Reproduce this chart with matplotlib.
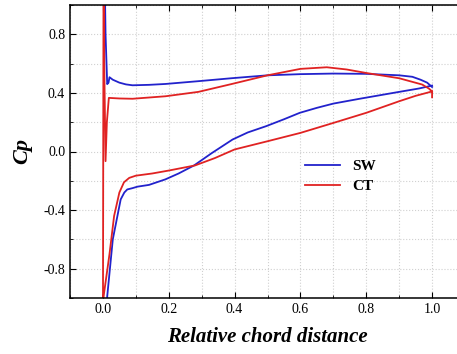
import matplotlib
matplotlib.use("Agg")
import matplotlib.pyplot as plt
from matplotlib.ticker import MultipleLocator

# SW (blue) - upper and lower surface
sw_up_x = [0.004, 0.008, 0.013, 0.017, 0.02, 0.03, 0.05, 0.07, 0.09, 0.14, 0.19, 0.29,
           0.39, 0.5, 0.6, 0.7, 0.8, 0.9, 0.94, 0.965, 0.985, 0.995, 1.0]
sw_up_y = [1.4, 0.8, 0.46, 0.47, 0.507, 0.49, 0.47, 0.458, 0.452, 0.455, 0.461, 0.48,
           0.50, 0.52, 0.528, 0.532, 0.53, 0.52, 0.51, 0.49, 0.47, 0.45, 0.44]
sw_lo_x = [0.01, 0.013, 0.03, 0.054, 0.065, 0.074, 0.09, 0.105, 0.14, 0.19, 0.23,
           0.277, 0.33, 0.394, 0.44, 0.496, 0.55, 0.598, 0.65, 0.7, 0.78, 0.9, 0.96, 1.0]
sw_lo_y = [-1.3, -0.99, -0.6, -0.327, -0.28, -0.259, -0.25, -0.24, -0.228, -0.19,
           -0.15, -0.095, -0.012, 0.082, 0.13, 0.173, 0.22, 0.264, 0.298, 0.327, 0.36,
           0.407, 0.43, 0.45]

# CT (red)
ct_up_x = [1.0, 1.0, 0.99, 0.97, 0.9, 0.8, 0.74, 0.68, 0.6, 0.5, 0.39, 0.29, 0.19,
           0.09, 0.05, 0.018, 0.012, 0.008, 0.004, 0.002]
ct_up_y = [0.37, 0.41, 0.43, 0.457, 0.5, 0.536, 0.56, 0.575, 0.564, 0.52, 0.46, 0.407,
           0.377, 0.36, 0.362, 0.366, 0.2, -0.066, 0.6, 1.4]
ct_lo_x = [0.0, 0.002, 0.02, 0.034, 0.05, 0.064, 0.08, 0.1, 0.15, 0.2, 0.28, 0.34,
           0.4, 0.5, 0.6, 0.7, 0.8, 0.9, 0.95, 1.0]
ct_lo_y = [-1.3, -0.99, -0.7, -0.44, -0.28, -0.21, -0.18, -0.165, -0.15, -0.13,
           -0.095, -0.045, 0.014, 0.07, 0.127, 0.195, 0.264, 0.343, 0.38, 0.41]

blue = "#2222cc"
red = "#e02222"

plt.rcParams['font.family'] = 'Liberation Serif'
plt.rcParams['axes.unicode_minus'] = False

fig = plt.figure(figsize=(4.57, 3.54), dpi=100)
ax = fig.add_axes([70 / 457, 56 / 354, 395 / 457, 293 / 354])

ax.plot(sw_up_x, sw_up_y, color=blue, lw=1.3, label="SW")
ax.plot(sw_lo_x, sw_lo_y, color=blue, lw=1.3)
ax.plot(ct_up_x + ct_lo_x, ct_up_y + ct_lo_y, color=red, lw=1.3, label="CT")

ax.set_xlim(-0.1, 1.1)
ax.set_ylim(-1.0, 1.0)
ax.xaxis.set_minor_locator(MultipleLocator(0.1))
ax.yaxis.set_minor_locator(MultipleLocator(0.2))
ax.set_xticks([0.0, 0.2, 0.4, 0.6, 0.8, 1.0])
ax.set_yticks([-0.8, -0.4, 0.0, 0.4, 0.8])
ax.tick_params(which='both', direction='in', top=True, right=True, labelsize=10)
ax.tick_params(which='major', length=4)
ax.tick_params(which='minor', length=2.5)
ax.grid(which='both', linestyle=':', color='#d0d0d0', lw=0.8)
for s in ax.spines.values():
    s.set_linewidth(1.1)

ax.set_xlabel("Relative chord distance", fontsize=15, fontweight='bold',
              fontstyle='italic', labelpad=8)
ax.set_ylabel("Cp", fontsize=16, fontweight='bold', fontstyle='italic', labelpad=8)

ax.legend(loc='upper left', bbox_to_anchor=(0.56, 0.52), frameon=False,
          prop={'weight': 'bold', 'size': 11}, handlelength=2.3, labelspacing=0.4)

fig.savefig("out.png", dpi=100)
